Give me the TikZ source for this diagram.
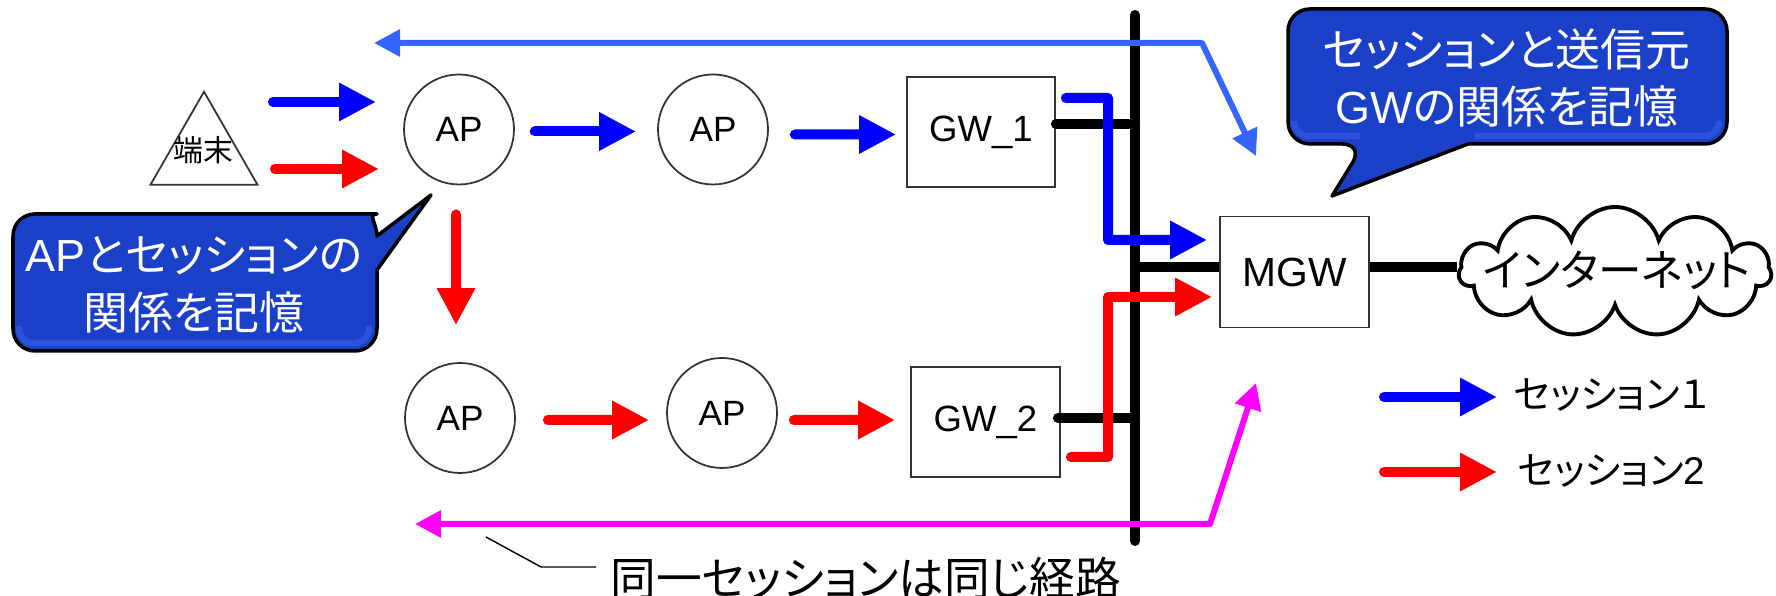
\documentclass[tikz,border=0pt]{standalone}
\usepackage{fontspec}
\setmainfont{Liberation Sans}
\newfontfamily\cjk[RawFeature=+palt]{Noto Sans CJK JP}
\usetikzlibrary{arrows.meta,shapes.geometric,shapes.symbols}
\definecolor{notefill}{HTML}{1A40C8}
\definecolor{notelight}{HTML}{2A52DA}
\definecolor{routeblue}{HTML}{3366FF}
\definecolor{routepink}{HTML}{FF00FF}
\begin{document}
\begin{tikzpicture}[>={Triangle[length=3.7mm,width=3.6mm]},
  apnode/.style={circle, draw=black!80, line width=0.5pt, minimum size=1.10cm, inner sep=0pt, font=\fontsize{10}{12}\selectfont},
  gwnode/.style={rectangle, draw=black!80, line width=0.5pt, minimum width=1.49cm, minimum height=1.10cm, inner sep=0pt, font=\fontsize{10.4}{12}\selectfont},
  wire/.style={line width=1mm, line cap=round},
  sessionblue/.style={->, blue, line width=1mm, line cap=round},
  sessionred/.style={->, red, line width=1mm, line cap=round},
  notebody/.style={draw=black, fill=notefill, line width=1pt, line join=round},
  notebevel/.style={notelight, line width=1.8pt},
  notetext/.style={white, align=center, font=\fontsize{12.8}{16.4}\selectfont},
  routeline/.style={{Triangle[length=2.6mm,width=2.6mm]}-{Triangle[length=2.6mm,width=2.6mm]}, line width=0.6mm}]
\useasboundingbox (0,0) rectangle (17.76,5.96);
% terminal
\node[isosceles triangle, isosceles triangle apex angle=60, isosceles triangle stretches, shape border rotate=90, draw=black!80, line width=0.5pt, minimum width=1.07cm, minimum height=0.93cm, inner sep=0pt, anchor=apex] (term) at (2.04,5.06) {};
\node[font=\fontsize{8.5}{10}\cjk, inner sep=0pt] (termlabel) at (2.03,4.46) {端末};
% access points and gateways
\node[apnode] (ap1) at (4.59,4.665) {AP};
\node[apnode] (ap2) at (7.13,4.665) {AP};
\node[apnode] (ap3) at (4.60,1.78) {AP};
\node[apnode] (ap4) at (7.22,1.83) {AP};
\node[gwnode, minimum width=1.48cm] (gw1) at (9.81,4.64) {GW\_1};
\node[gwnode] (gw2) at (9.855,1.74) {GW\_2};
\node[gwnode, minimum height=1.11cm, font=\fontsize{11.6}{13}\selectfont] (mgw) at (12.945,3.24) {MGW};
\node[cloud, cloud puffs=11, cloud ignores aspect, draw=black, line width=1.1pt, minimum width=3.12cm, minimum height=1.30cm, inner sep=0pt] (inet) at (16.15,3.24) {};
\node[font=\fontsize{12.4}{15}\cjk, inner sep=0pt] (inetlabel) at (16.17,3.26) {インターネット};
% backbone
\coordinate (bustop) at (11.35,5.81);
\coordinate (busbot) at (11.35,0.55);
\draw[wire] (bustop) -- (busbot);
\draw[wire] ([yshift=0.08cm]gw1.east) -- ([yshift=0.08cm]gw1.east -| bustop);
\draw[wire] ([xshift=-0.03cm,yshift=0.04cm]gw2.east) -- ([yshift=0.04cm]gw2.east -| bustop);
\draw[wire, line cap=butt] (mgw.west |- 0,3.29) -- (bustop |- 0,3.29);
\draw[wire, line cap=butt] (mgw.east |- 0,3.29) -- (inet.west |- 0,3.29);
% session 1
\coordinate (s1a) at (2.73,4.94);
\coordinate (s1b) at (3.76,4.94);
\draw[sessionblue] (s1a) -- (s1b);
\draw[sessionblue] ([xshift=0.20cm,yshift=-0.02cm]ap1.east) -- ([xshift=-0.21cm,yshift=-0.02cm]ap2.west);
\draw[sessionblue] ([xshift=0.26cm,yshift=-0.05cm]ap2.east) -- ([xshift=-0.10cm,yshift=-0.025cm]gw1.west);
\draw[sessionblue, line join=round] ([xshift=0.10cm,yshift=0.34cm]gw1.east) -| (11.08,3.56) -- ([xshift=-0.12cm,yshift=0.32cm]mgw.west);
% session 2
\coordinate (s2a) at (2.75,4.27);
\coordinate (s2b) at (3.79,4.27);
\draw[sessionred] (s2a) -- (s2b);
\draw[sessionred] ([xshift=-0.03cm,yshift=-0.29cm]ap1.south) -- ([xshift=-0.04cm,yshift=0.37cm]ap3.north);
\draw[sessionred] ([xshift=0.32cm,yshift=-0.02cm]ap3.east) -- ([xshift=-0.17cm,yshift=-0.07cm]ap4.west);
\draw[sessionred] ([xshift=0.16cm,yshift=-0.07cm]ap4.east) -- ([xshift=-0.15cm,yshift=0.02cm]gw2.west);
\draw[sessionred, line join=round] ([xshift=0.10cm,yshift=-0.35cm]gw2.east) -| (11.08,2.99) -- ([xshift=-0.07cm,yshift=-0.25cm]mgw.west);
% same route
\coordinate (rtop) at (3.74,5.53);
\coordinate (rtopend) at (12.56,4.40);
\draw[routeline, routeblue, line join=round] (rtop) -- (12.02,5.53) -- (rtopend);
\coordinate (rbot) at (4.15,0.72);
\coordinate (rbotend) at (12.56,2.13);
\draw[routeline, routepink, line join=round] (rbot) -- (12.10,0.72) -- (rbotend);
\node[font=\fontsize{13}{15}\cjk, inner sep=0pt] (samepath) at (8.66,0.18) {同一セッションは同じ経路};
\coordinate (samepathtip) at (4.86,0.59);
\draw[line width=0.4pt] (samepathtip) -- (5.41,0.29) -- (5.96,0.29);
% callouts
\draw[notebody] (2,2.45) [rounded corners=0.22cm] -- (0.13,2.45) -- (0.13,3.82) -- (3.55,3.82) [sharp corners] arc[start angle=90, end angle=0, radius=0.22cm] -- (4.31,4.01) -- (3.77,3.26) [rounded corners=0.22cm] -- (3.77,2.45) -- cycle;
\draw[notebevel] (0.19,2.70) [rounded corners=0.14cm] -- (0.19,2.53) -- (3.69,2.53) -- (3.69,2.70);
\node[notetext, inner sep=0pt] (apnote) at (1.94,3.11) {AP{\cjk とセッションの}\\{\cjk 関係を記憶}};
\draw[notebody] (16,4.52) [rounded corners=0.22cm] -- (17.27,4.52) -- (17.27,5.87) -- (12.88,5.87) -- (12.88,4.52) -- (13.64,4.52) [sharp corners] -- (13.32,4.00) -- (14.68,4.52) -- cycle;
\draw[notebevel] (12.94,4.75) [rounded corners=0.14cm] -- (12.94,4.60) -- (13.60,4.60);
\draw[notebevel] (14.75,4.60) [rounded corners=0.14cm] -- (17.19,4.60) -- (17.19,4.75);
\node[notetext, inner sep=0pt] (gwnote) at (15.07,5.18) {{\cjk セッションと送信元}\\GW{\cjk の関係を記憶}};
% legend
\coordinate (lega) at (13.84,1.99);
\coordinate (legb) at (14.97,1.99);
\draw[sessionblue] (lega) -- (legb);
\node[anchor=west, inner sep=0pt, font=\fontsize{11}{13}\cjk] (leg1) at (15.13,2.01) {セッション１};
\coordinate (legc) at (13.84,1.24);
\coordinate (legd) at (14.97,1.24);
\draw[sessionred] (legc) -- (legd);
\node[anchor=west, inner sep=0pt, font=\fontsize{11}{13}\cjk] (leg2) at (15.17,1.25) {セッション{\rmfamily 2}};
\end{tikzpicture}
\end{document}
